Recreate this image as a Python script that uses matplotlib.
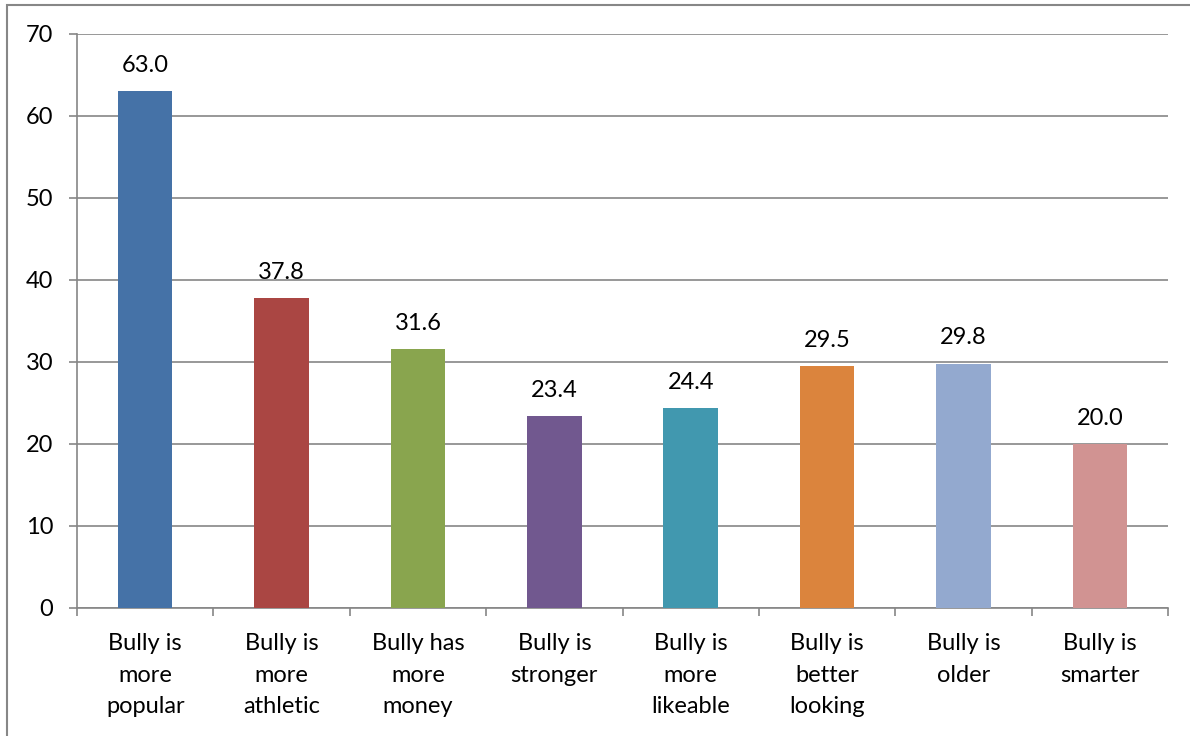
import matplotlib
matplotlib.use('Agg')
import matplotlib.pyplot as plt
from matplotlib.patches import Rectangle
import numpy as np

plt.rcParams['font.family'] = ['Lato', 'DejaVu Sans']

categories = ["Bully is\nmore\npopular", "Bully is\nmore\nathletic", "Bully has\nmore\nmoney",
              "Bully is\nstronger", "Bully is\nmore\nlikeable", "Bully is\nbetter\nlooking",
              "Bully is\nolder", "Bully is\nsmarter"]
values = [63.0, 37.8, 31.6, 23.4, 24.4, 29.5, 29.8, 20.0]
colors = ['#4572A7', '#AA4643', '#89A54E', '#71588F', '#4198AF', '#DB843D', '#93A9CF', '#D19392']
yticks = [0, 10, 20, 30, 40, 50, 60, 70]

fs = 17
fig = plt.figure(figsize=(11.9, 7.36), dpi=100)
fig.patches.append(Rectangle((7 / 1190, -0.1), 1.2, 1.1 - 5 / 736, transform=fig.transFigure,
                             fill=False, edgecolor='#878787', linewidth=1.5, zorder=0))

ax = fig.add_axes([77 / 1190, (736 - 608) / 736, (1168 - 77) / 1190, (608 - 34) / 736])
gray = '#868686'
x = np.arange(len(values))
ax.bar(x, values, width=0.4, color=colors, zorder=3)
for xi, v in zip(x, values):
    ax.annotate(f"{v:.1f}", (xi, v), xytext=(0, 11), textcoords='offset points',
                ha='center', va='bottom', fontsize=fs)

ax.set_xlim(-0.5, len(values) - 0.5)
ax.set_ylim(0, 70)
ax.set_yticks(yticks)
ax.tick_params(axis='y', labelsize=fs, length=6, width=1.2, color=gray, pad=11)
ax.yaxis.grid(True, color=gray, linewidth=1.2, zorder=0)
ax.set_xticks(x)
ax.set_xticklabels(categories, fontsize=fs, linespacing=1.62)
ax.tick_params(axis='x', which='major', length=0, pad=18)
ax.set_xticks(np.arange(-0.5, len(values)), minor=True)
ax.tick_params(axis='x', which='minor', length=6, width=1.2, color=gray)
for side in ['top', 'right']:
    ax.spines[side].set_visible(False)
for side in ['left', 'bottom']:
    ax.spines[side].set_color(gray)
    ax.spines[side].set_linewidth(1.2)

fig.savefig('out.png', dpi=100)
